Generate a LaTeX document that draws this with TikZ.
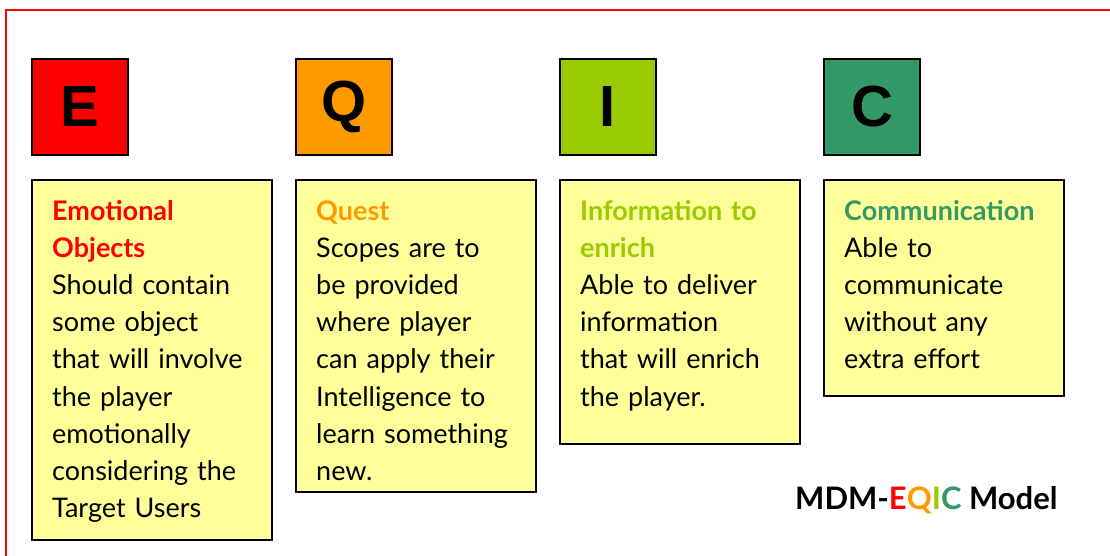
\documentclass[tikz,border=0pt]{standalone}
\usepackage{fontspec}
\setmainfont{Lato}
\newfontfamily\letterfont{Liberation Sans}
\definecolor{cE}{HTML}{FF0000}
\definecolor{cQ}{HTML}{FF9900}
\definecolor{cI}{HTML}{99CC00}
\definecolor{cC}{HTML}{339966}
\definecolor{pad}{HTML}{FFFF99}
\begin{document}
\begin{tikzpicture}[x=1pt,y=-1pt,
  letterbox/.style={draw=black,line width=2pt,minimum width=96pt,minimum height=96pt,inner sep=0pt,anchor=north west,font=\letterfont\bfseries\fontsize{58}{60}\selectfont},
  padbox/.style={draw=black,line width=1.6pt,fill=pad,inner sep=0pt,anchor=north west,minimum width=240pt},
  shadowbox/.style={fill=black!35,inner sep=0pt,anchor=north west,minimum width=240pt},
  padtext/.style={anchor=base west,inner sep=0pt,text width=225pt,align=left,font=\fontsize{27}{37.2}\selectfont},
  head/.style={font=\bfseries}
]
\useasboundingbox (0,0) rectangle (1110,556);
\clip (0,0) rectangle (1110,556);
\fill[white] (0,0) rectangle (1110,556);
\draw[cE,line width=1.5pt] (6,10) rectangle (1130,580);

% letter boxes
\node[letterbox,fill=cE] (lE) at (31,58) {E};
\node[letterbox,fill=cQ] (lQ) at (295,58) {Q};
\node[letterbox,fill=cI] (lI) at (559,58) {I};
\node[letterbox,fill=cC] (lC) at (823,58) {C};

% shadows
\node[shadowbox,minimum height=360pt] (sE) at (33,181) {};
\node[shadowbox,minimum height=312pt] (sQ) at (297,181) {};
\node[shadowbox,minimum height=264pt] (sI) at (561,181) {};
\node[shadowbox,minimum height=216pt] (sC) at (825,181) {};

% pads
\node[padbox,minimum height=360pt] (pE) at (31,179) {};
\node[padbox,minimum height=312pt] (pQ) at (295,179) {};
\node[padbox,minimum height=264pt] (pI) at (559,179) {};
\node[padbox,minimum height=216pt] (pC) at (823,179) {};

\node[padtext] (tE) at (52,220) {{\bfseries\color{cE}Emotional\\Objects}\\Should contain\\some object\\that will involve\\the player\\emotionally\\considering the\\Target Users};
\node[padtext] (tQ) at (316,220) {{\bfseries\color{cQ}Quest}\\Scopes are to\\be provided\\where player\\can apply their\\Intelligence to\\learn something\\new.};
\node[padtext] (tI) at (580,220) {{\bfseries\color{cI}Information to\\enrich}\\Able to deliver\\information\\that will enrich\\the player.};
\node[padtext] (tC) at (844,220) {{\bfseries\color{cC}Communication}\\Able to\\communicate\\without any\\extra effort};

\node[anchor=base west,inner sep=0pt,font=\bfseries\fontsize{31}{34}\selectfont] (model) at (795,509)
  {MDM-{\color{cE}E}{\color{cQ}Q}{\color{cI}I}{\color{cC}C} Model};
\end{tikzpicture}
\end{document}
